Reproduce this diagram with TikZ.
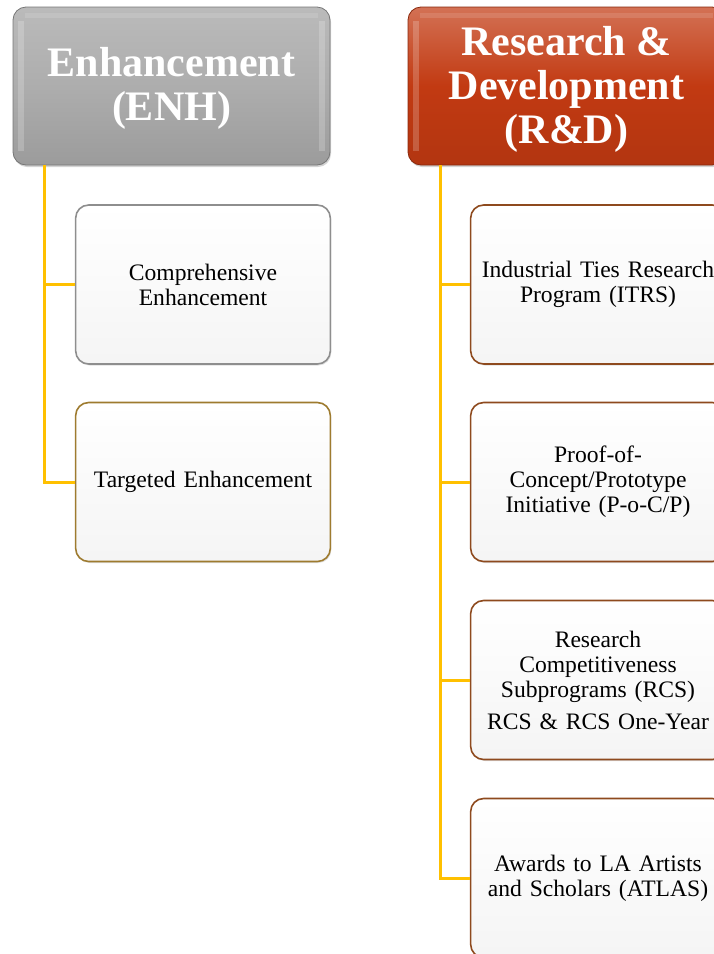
\documentclass[tikz,border=0pt]{standalone}
\usepackage{fontspec}
\setmainfont{Liberation Serif}
\usetikzlibrary{shadows}
\definecolor{conn}{HTML}{FFC000}
\definecolor{grayhdr}{HTML}{A9A9A9}
\definecolor{redhdr}{HTML}{C23A12}
\definecolor{bgray}{HTML}{8E8E8E}
\definecolor{bgold}{HTML}{9E7B2F}
\definecolor{bbrown}{HTML}{8E4A1E}
\newcommand{\hdrtext}[2]{\raisebox{0pt}[\dimexpr\height+#1\relax][\depth]{\parbox{300pt}{\centering #2}}}
\tikzset{
  x=1pt, y=-1pt,
  hdr/.style={rounded corners=13pt, minimum width=317pt, minimum height=158pt,
    align=center, text=white, font=\fontsize{42}{44}\selectfont\bfseries,
    draw=#1!70!black, line width=0.8pt, drop shadow={opacity=0.35, shadow xshift=1pt, shadow yshift=-2pt}},
  child/.style={rounded corners=13pt, minimum width=254pt, minimum height=159pt,
    text width=248pt, align=center, font=\fontsize{23.6}{25}\selectfont,
    draw=#1, line width=1.6pt, top color=white, bottom color=black!4,
    drop shadow={opacity=0.25, shadow xshift=1pt, shadow yshift=-1.5pt}},
  link/.style={draw=conn, line width=3pt}
}
\begin{document}
\begin{tikzpicture}
\useasboundingbox (0,0) rectangle (714,954);
\clip (0,0) rectangle (714,954);
% headers
\node[hdr=grayhdr, top color=grayhdr!80!white, bottom color=grayhdr!92!black, middle color=grayhdr!95!white] (enh) at (171.5,86) {\hdrtext{4pt}{Enhancement\\(ENH)}};
\node[hdr=redhdr, top color=redhdr!72!white, bottom color=redhdr!92!black, middle color=redhdr] (rd) at (566.5,86) {\hdrtext{7pt}{Research \&\\Development\\(R\&D)}};
% bevel highlights
\fill[white, opacity=0.2] ([xshift=5pt,yshift=-14pt]enh.north west) rectangle ([xshift=11pt,yshift=14pt]enh.south west);
\fill[white, opacity=0.2] ([xshift=-11pt,yshift=-14pt]enh.north east) rectangle ([xshift=-5pt,yshift=14pt]enh.south east);
\fill[white, opacity=0.12] ([xshift=12pt,yshift=-6pt]enh.north west) rectangle ([xshift=-12pt,yshift=-11pt]enh.north east);
\fill[white, opacity=0.2] ([xshift=5pt,yshift=-14pt]rd.north west) rectangle ([xshift=11pt,yshift=14pt]rd.south west);
\fill[white, opacity=0.12] ([xshift=12pt,yshift=-6pt]rd.north west) rectangle ([xshift=-12pt,yshift=-11pt]rd.north east);
% ENH children
\node[child=bgray] (c1) at (203,284.5) {Comprehensive\\Enhancement};
\node[child=bgold] (c2) at (203,482) {Targeted Enhancement};
% R&D children
\node[child=bbrown] (r1) at (598,284.5) {Industrial Ties Research\\Program (ITRS)};
\node[child=bbrown] (r2) at (598,482) {Proof-of-\\Concept/Prototype\\Initiative (P-o-C/P)};
\node[child=bbrown] (r3) at (598,680) {Research\\Competitiveness\\Subprograms (RCS)\\[7pt]RCS \& RCS One-Year};
\node[child=bbrown] (r4) at (598,878) {Awards to LA Artists\\and Scholars (ATLAS)};
% connectors
\coordinate (t1) at (44,165);
\coordinate (t2) at (440,165);
\draw[link] (t1) |- (c1.west);
\draw[link] (t1) |- (c2.west);
\draw[link] (t2) |- (r1.west);
\draw[link] (t2) |- (r2.west);
\draw[link] (t2) |- (r3.west);
\draw[link] (t2) |- (r4.west);
\end{tikzpicture}
\end{document}
